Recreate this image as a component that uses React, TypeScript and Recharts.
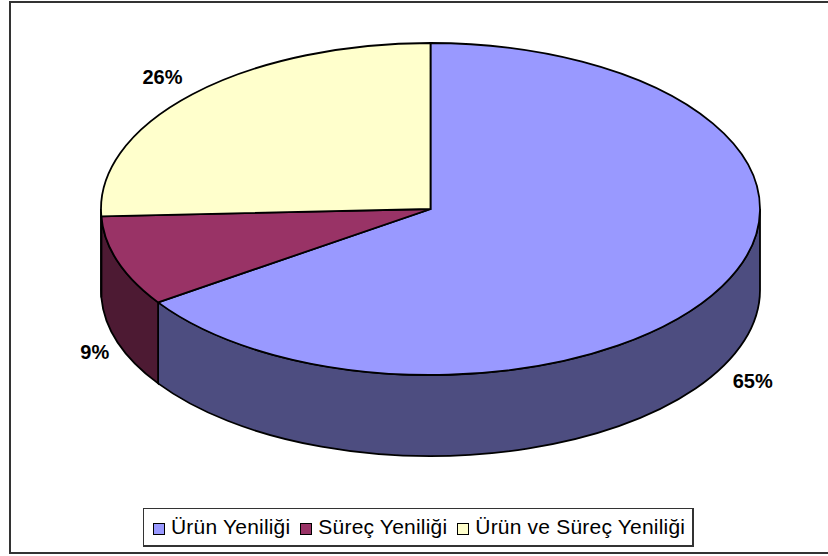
import { Legend, Pie, PieChart } from 'recharts';

const categories = ['Ürün Yeniliği', 'Süreç Yeniliği', 'Ürün ve Süreç Yeniliği'];
const shares = [65.49, 8.81, 25.7];
const topColors = ['#9999FF', '#993366', '#FFFFCC'];
const wallColors = ['#4D4D80', '#4D1A33', '#808066'];

// fine placement of the percent labels, from the rim of each slice
const labelNudgeX = [31, -23, -30];
const labelNudgeY = [13, 10, -17];

const pieData = categories.map((name, i) => ({
  name,
  value: shares[i],
  fill: topColors[i],
  wall: wallColors[i],
}));

// the tilted pie is squashed vertically and pushed down for its wall
const SQUASH = 166 / 329.5;
const DEPTH = 81;
const RAD = Math.PI / 180;

function rimPoint(cx: number, cy: number, r: number, deg: number) {
  return {
    x: cx + r * Math.cos(deg * RAD),
    y: cy - r * SQUASH * Math.sin(deg * RAD),
  };
}

function TiltedSlice(props: any) {
  const { cx, cy, outerRadius: r, startAngle, endAngle, fill, payload } = props;
  const ry = r * SQUASH;
  const a = rimPoint(cx, cy, r, startAngle);
  const b = rimPoint(cx, cy, r, endAngle);
  const large = Math.abs(startAngle - endAngle) > 180 ? 1 : 0;
  const top = `M${cx},${cy} L${a.x},${a.y} A${r},${ry} 0 ${large} 1 ${b.x},${b.y} Z`;

  // only the front half of the rim has a visible wall
  const from = Math.min(startAngle, 0);
  const to = Math.max(endAngle, -180);
  let wall = null;
  if (from > to) {
    const p = rimPoint(cx, cy, r, from);
    const q = rimPoint(cx, cy, r, to);
    wall = (
      <path
        d={`M${p.x},${p.y} A${r},${ry} 0 0 1 ${q.x},${q.y} L${q.x},${q.y + DEPTH} A${r},${ry} 0 0 0 ${p.x},${p.y + DEPTH} Z`}
        fill={payload.wall}
        stroke="#000"
        strokeWidth={1.8}
      />
    );
  }

  return (
    <g>
      {wall}
      <path d={top} fill={fill} stroke="#000" strokeWidth={1.8} />
    </g>
  );
}

function PercentLabel(props: any) {
  const { cx, cy, outerRadius, midAngle, percent, index } = props;
  const p = rimPoint(cx, cy, outerRadius, midAngle);
  const front = midAngle < 0 && midAngle > -180;
  return (
    <text
      x={p.x + labelNudgeX[index]}
      y={p.y + (front ? DEPTH : 0) + labelNudgeY[index]}
      textAnchor="middle"
      dominantBaseline="central"
      fontFamily="'Liberation Sans', Arial, sans-serif"
      fontWeight="bold"
      fontSize={20}
      fill="#000"
    >
      {`${Math.round(percent * 100)}%`}
    </text>
  );
}

function LegendBox({ payload }: any) {
  return (
    <div
      style={{
        display: 'flex',
        alignItems: 'center',
        height: 36,
        padding: '0 7px 0 9px',
        boxSizing: 'content-box',
        background: '#fff',
        border: '1px solid #333',
        borderRightWidth: 2,
        borderBottomWidth: 2,
        fontFamily: "'Liberation Sans', Arial, sans-serif",
        fontSize: 21,
        letterSpacing: 0.2,
        color: '#000',
        whiteSpace: 'nowrap',
      }}
    >
      {(payload ?? []).map((item: any, i: number) => (
        <span key={item.value} style={{ display: 'flex', alignItems: 'center', marginLeft: i ? 10 : 0 }}>
          <span
            style={{
              width: 10,
              height: 10,
              marginRight: 6,
              marginTop: 3,
              background: item.color,
              border: '1.5px solid #000',
            }}
          />
          {item.value}
        </span>
      ))}
    </div>
  );
}

export default function App() {
  return (
    <div style={{ position: 'absolute', left: 0, top: 0, width: 828, height: 556, background: '#fff', overflow: 'hidden' }}>
      <div
        style={{
          position: 'absolute',
          left: 9,
          top: 1,
          width: 830,
          height: 549,
          borderStyle: 'solid',
          borderColor: '#333',
          borderWidth: 2,
        }}
      />
      <PieChart width={828} height={556} margin={{ top: 0, right: 0, bottom: 0, left: 0 }} style={{ position: 'absolute', left: 0, top: 0 }}>
        <Pie
          data={pieData}
          dataKey="value"
          nameKey="name"
          cx={430.5}
          cy={209}
          outerRadius={329.5}
          startAngle={90}
          endAngle={-270}
          stroke="#000"
          shape={TiltedSlice}
          label={PercentLabel}
          labelLine={false}
          isAnimationActive={false}
        />
        <Legend
          content={LegendBox}
          itemSorter={null}
          wrapperStyle={{ position: 'absolute', left: 143, top: 508, width: 'auto', bottom: 'auto' }}
        />
      </PieChart>
    </div>
  );
}
